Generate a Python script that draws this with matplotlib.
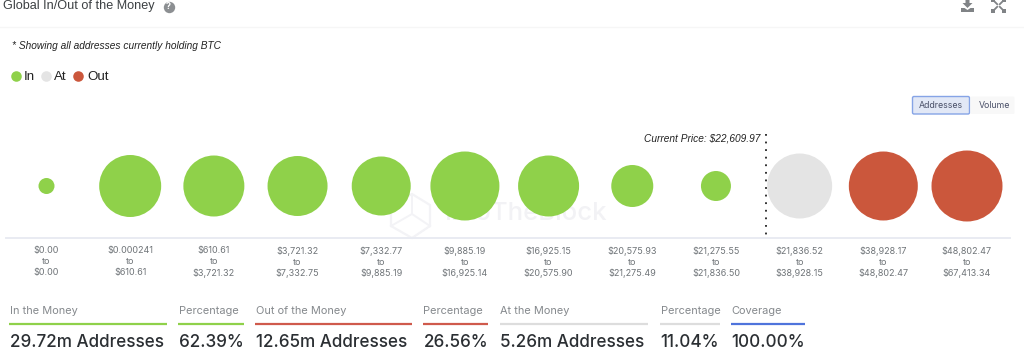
import matplotlib
matplotlib.use('Agg')
import matplotlib.pyplot as plt
from matplotlib.patches import FancyBboxPatch, Polygon

plt.rcParams['font.family'] = ['Inter', 'DejaVu Sans']

# Datos
range_low = ['$0.00', '$0.000241', '$610.61', '$3,721.32', '$7,332.77', '$9,885.19',
             '$16,925.15', '$20,575.93', '$21,275.55', '$21,836.52', '$38,928.17', '$48,802.47']
range_high = ['$0.00', '$610.61', '$3,721.32', '$7,332.75', '$9,885.19', '$16,925.14',
              '$20,575.90', '$21,275.49', '$21,836.50', '$38,928.15', '$48,802.47', '$67,413.34']
# bubble size (diameter in px)
bubble_size = [16, 62, 61, 60, 59, 69, 61, 42, 30, 65, 69, 71]
status = ['In', 'In', 'In', 'In', 'In', 'In', 'In', 'In', 'In', 'At', 'Out', 'Out']
legend_names = ['In', 'At', 'Out']

stat_titles = ['In the Money', 'Percentage', 'Out of the Money', 'Percentage',
               'At the Money', 'Percentage', 'Coverage']
stat_values = ['29.72m Addresses', '62.39%', '12.65m Addresses', '26.56%',
               '5.26m Addresses', '11.04%', '100.00%']

GREEN = '#8fd14a'
GREY = '#e4e4e4'
RED = '#cb573c'
ICON = '#808386'
colors = {'In': GREEN, 'At': GREY, 'Out': RED}

W, H = 1024, 352
fig = plt.figure(figsize=(W / 100, H / 100), dpi=100)

# background axes in pixel coordinates for the page furniture
bg = fig.add_axes([0, 0, 1, 1])
bg.set_xlim(0, W)
bg.set_ylim(H, 0)
bg.axis('off')

# watermark behind the bubbles
bg.text(445, 213, 'IntoTheBlock', fontsize=18.5, color='#f2f2f5', va='center', fontweight='medium')
bg.add_patch(Polygon([(412, 194), (430, 205), (430, 226), (412, 238), (391, 226), (391, 205)],
                     fc='none', ec='#f3f3f6', lw=1.6))
bg.plot([391, 412, 430], [226, 214, 226], color='#f3f3f6', lw=1.4)
bg.plot([412, 412], [194, 214], color='#f3f3f6', lw=1.4)

# chart axes: categories 0..11, x pixels 46.5 -> 967
step = (967 - 46.5) / 11
left_px, right_px = 6, 1010
top_px, bottom_px = 130, 238
ax = fig.add_axes([left_px / W, 1 - bottom_px / H, (right_px - left_px) / W, (bottom_px - top_px) / H])
ax.patch.set_alpha(0)
ax.set_xlim((left_px - 46.5) / step, (right_px - 46.5) / step)
ax.set_ylim(bottom_px, top_px)

xs = list(range(len(bubble_size)))
ax.scatter(xs, [186] * len(xs), s=[(d * 0.72) ** 2 for d in bubble_size],
           c=[colors[s] for s in status], linewidths=0, zorder=3)

ax.set_xticks(xs)
ax.set_xticklabels([a + '\nto\n' + b for a, b in zip(range_low, range_high)],
                   fontsize=6.5, color='#6f7478', linespacing=1.28)
ax.tick_params(axis='x', length=0, pad=6)
ax.set_yticks([])
for side in ['top', 'left', 'right']:
    ax.spines[side].set_visible(False)
ax.spines['bottom'].set_color('#e9ebf2')
ax.spines['bottom'].set_linewidth(1.4)

# current price marker
price_x = 8.595
ax.plot([price_x, price_x], [134, bottom_px + 1], color='#222222', lw=1.3, linestyle=(0, (1, 3.2)),
        clip_on=False, zorder=4)
ax.text(price_x - 0.07, 138.5, 'Current Price: $22,609.97', ha='right', va='center',
        fontsize=7.25, style='italic', color='#222222',
        family=['Liberation Sans', 'DejaVu Sans'])

# header
bg.text(3, 6, 'Global In/Out of the Money', fontsize=9.1, color='#3c4043', va='center',
        family=['Liberation Sans', 'DejaVu Sans'])
bg.plot([168.5], [6.5], 'o', ms=8.2, color='#8c8f92', mew=0)
bg.text(168.5, 6.7, '?', fontsize=6.5, fontweight='bold', color='white', ha='center', va='center')
bg.plot([0, W], [27, 27], color='#f6f6f6', lw=1)

# download / expand icons
bg.add_patch(Polygon([(965.5, 0), (969.5, 0), (969.5, 3), (972.5, 3), (967.5, 8), (962.5, 3), (965.5, 3)],
                     fc=ICON, ec='none'))
bg.add_patch(Polygon([(961, 8), (964.5, 8), (967.5, 10), (970.5, 8), (974, 8), (974, 12), (961, 12)],
                     fc=ICON, ec='none'))
for dx, dy in [(-1, -1), (1, -1), (-1, 1), (1, 1)]:
    bg.plot([998.5 + dx * 1.3, 998.5 + dx * 5.2], [5.5 + dy * 1.3, 5.5 + dy * 5.2],
            color=ICON, lw=1.3)
    bg.plot([998.5 + dx * 5.2], [5.5 + dy * 5.2], 's', ms=2.6, color=ICON, mew=0)

bg.text(12, 46, '* Showing all addresses currently holding BTC', fontsize=7.3, style='italic',
        color='#222222', va='center', family=['Liberation Sans', 'DejaVu Sans'])

# legend
for name, mx, tx in zip(legend_names, [15.5, 46, 78], [24, 54, 87]):
    bg.plot([mx], [76], 'o', ms=7.6, color=colors[name], mew=0)
    bg.text(tx, 76.8, name, fontsize=9.6, color='#222222', va='center',
            family=['Liberation Sans', 'DejaVu Sans'])

# Addresses / Volume switch
bg.add_patch(FancyBboxPatch((912.5, 96.5), 57, 17.5, boxstyle='round,pad=0,rounding_size=1.5',
                            fc='#e2e8f6', ec='#86a4e6', lw=1))
bg.add_patch(FancyBboxPatch((970.5, 96.5), 44, 17.5, boxstyle='round,pad=0,rounding_size=1.5',
                            fc='#f8f8f8', ec='none'))
bg.text(941, 105.5, 'Addresses', fontsize=6.3, color='#4a5068', ha='center', va='center')
bg.text(994, 105.5, 'Volume', fontsize=6.3, color='#4a5068', ha='center', va='center')

# stat row
stat_x0 = [9, 178, 255, 423, 500, 660, 731]
stat_x1 = [167, 244, 412, 488, 648, 720, 805]
stat_col = [GREEN, GREEN, '#cf5a4c', '#cf5a4c', '#dddddd', '#dddddd', '#4f74dc']
for x0, x1, c, t, v in zip(stat_x0, stat_x1, stat_col, stat_titles, stat_values):
    bg.text(x0 + 0.5, 311, t, fontsize=7.9, color='#85898d', va='center')
    bg.plot([x0, x1], [324, 324], color=c, lw=1.6, solid_capstyle='butt')
    bg.text(x0 + 0.5, 342.5, v, fontsize=12.3, fontweight='medium', color='#2b2f33', va='center')

fig.savefig('out.png', dpi=100)
